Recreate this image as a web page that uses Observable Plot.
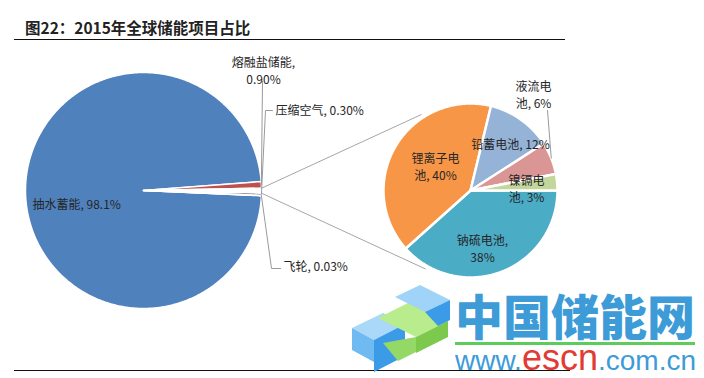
<!DOCTYPE html>
<html>
<head>
<meta charset="utf-8">
<script src="https://cdn.jsdelivr.net/npm/d3@7"></script>
<script src="https://cdn.jsdelivr.net/npm/@observablehq/plot@0.6"></script>
<style>
  html, body { margin: 0; padding: 0; background: #fff; }
  #wrap { position: relative; width: 704px; height: 378px; overflow: hidden; font-family: "Noto Sans CJK SC", sans-serif; }
  #title { position: absolute; left: 14px; top: 0; width: 551px; height: 22px; padding-top: 17px;
           border-bottom: 1.5px solid #111; font-weight: bold; font-size: 15.5px; line-height: 20px; color: #222; }
  #title span { margin-left: 11px; }
  #chart { position: absolute; left: 0; top: 41px; }
  #bottomline { position: absolute; left: 14px; top: 370px; width: 556px; border-top: 1.5px solid #111; }
  #logo { position: absolute; left: 340px; top: 280px; }
  #wmcn { position: absolute; left: 455px; top: 290px; font-size: 48px; line-height: 48px; font-weight: 900; color: #3d9bd8; white-space: nowrap; }
  #wmline { position: absolute; left: 455px; top: 342px; width: 240px; height: 2.5px; background: #5ccc5c; }
  #wmurl { position: absolute; left: 455px; top: 340px; font-family: "Liberation Sans", Arial, sans-serif; line-height: 36px; white-space: nowrap; }
  #wmurl .b { color: #3d9bd8; font-size: 28px; }
  #wmurl .r { color: #e23a34; font-size: 36px; }
</style>
</head>
<body>
<div id="wrap">
  <div id="title"><span>图22：2015年全球储能项目占比</span></div>
  <div id="chart"></div>
  <div id="bottomline"></div>
  <svg id="logo" width="120" height="98" viewBox="340 280 120 98">
    <polygon points="352,328 383,313 405,324 374,340" fill="#a9d8f8"/>
    <polygon points="352,328 374,340 374,362 352,350" fill="#6fbaf0"/>
    <polygon points="374,340 405,324 405,356 374,372" fill="#3c9be6"/>
    <polygon points="378,318 410,302 448,321 416,337" fill="#b9ec8c"/>
    <polygon points="383,343 416,337 416,352 398,361" fill="#94d866"/>
    <polygon points="416,337 448,321 448,337 416,353" fill="#7cc94e"/>
    <polygon points="395,297 420,285 450,300 425,312" fill="#9fd3f7"/>
    <polygon points="425,312 450,300 450,320 438,326" fill="#3c9be6"/>
  </svg>
  <div id="wmcn">中国储能网</div>
  <div id="wmline"></div>
  <div id="wmurl"><span class="b">www.</span><span class="r">escn</span><span class="b">.com.cn</span></div>
</div>
<script>
// ---------------- data ----------------
const mainNames  = ["抽水蓄能", "熔融盐储能", "电化学储能", "压缩空气", "飞轮"];
const mainValues = [98.1, 0.90, 0.67, 0.30, 0.03];
const mainPctText = ["98.1%", "0.90%", "", "0.30%", "0.03%"];

const subNames  = ["钠硫电池", "锂离子电池", "铅蓄电池", "液流电池", "镍镉电池"];
const subValues = [38, 40, 12, 6, 3];

// ---------------- styles ----------------
const mainColors = ["#4f81bd", "#c0504d", "#ffffff", "#363150", "#8064a2"];
const subColors  = ["#4bacc6", "#f79646", "#95b3d7", "#da9694", "#c3d69b"];

// ---------------- layout ----------------
const W = 704, H = 330, TOP = 41;
const K = 118;                      // px per unit (main pie radius)
const MCX = 143, MCY = 190;         // main pie centre (page px)
const ux = px => (px - MCX) / K;
const uy = py => (MCY - py) / K;
const deg = Math.PI / 180;
const mainC = {x: 0, y: 0}, mainR = 1;
const subC = {x: ux(470), y: uy(190)}, subR = 87 / K;

const mainArcs = d3.pie().sort(null).startAngle(92.5 * deg).endAngle(92.5 * deg + 2 * Math.PI)(mainValues);
const subArcs  = d3.pie().sort(null).startAngle(90 * deg).endAngle(90 * deg + 2 * Math.PI)(subValues);

function pt(c, r, a) { return {x: c.x + r * Math.sin(a), y: c.y + r * Math.cos(a)}; }
function poly(arc, c, r, name) {
  const out = [{name, ...c}];
  const n = Math.max(2, Math.ceil((arc.endAngle - arc.startAngle) / 0.01));
  for (let i = 0; i <= n; i++) out.push({name, ...pt(c, r, arc.startAngle + (arc.endAngle - arc.startAngle) * i / n)});
  out.push({name, ...c});
  return out;
}
const mid = a => (a.startAngle + a.endAngle) / 2;

const mainPts = mainArcs.flatMap((a, i) => poly(a, mainC, mainR, mainNames[i]));
const subPts  = subArcs.flatMap((a, i) => poly(a, subC, subR, subNames[i]));

// connector lines from "other" slice to secondary pie
const other = mainArcs[2];
const connectors = [
  {id: "top", ...pt(mainC, mainR, other.startAngle)}, {id: "top", ...pt(subC, subR * 1.04, 327 * deg)},
  {id: "bot", ...pt(mainC, mainR, other.endAngle)},   {id: "bot", ...pt(subC, subR * 1.04, 210 * deg)}
];

// label placement (px offsets from pie centre), anchor, line-break position
const off = (c, dx, dy) => ({x: c.x + dx / K, y: c.y - dy / K});
const mainLabelLayout = [
  {dx: -111, dy: 13, anchor: "start", br: 0},
  {dx: 120, dy: -120, anchor: "middle", br: 6},
  null,
  {dx: 132, dy: -81, anchor: "start", br: 0},
  {dx: 140, dy: 75, anchor: "start", br: 0}
];
const subLabelLayout = [
  {dx: 12, dy: 58, anchor: "middle", br: 5},
  {dx: -35, dy: -24, anchor: "middle", br: 4},
  {dx: 40, dy: -47, anchor: "middle", br: 0},
  {dx: 63, dy: -96, anchor: "middle", br: 3},
  {dx: 56, dy: -2, anchor: "middle", br: 3}
];
function wrapText(s, br) { return br ? s.slice(0, br) + "\n" + s.slice(br).trimStart() : s; }
const labels = [];
mainNames.forEach((n, i) => {
  const L = mainLabelLayout[i]; if (!L) return;
  labels.push({...off(mainC, L.dx, L.dy), anchor: L.anchor, text: wrapText(`${n}, ${mainPctText[i]}`, L.br)});
});
subNames.forEach((n, i) => {
  const L = subLabelLayout[i];
  labels.push({...off(subC, L.dx, L.dy), anchor: L.anchor, text: wrapText(`${n}, ${subValues[i]}%`, L.br)});
});

// leader lines
const leaders = [
  {id: 1, ...off(mainC, 119, -109)}, {id: 1, ...pt(mainC, mainR, mid(mainArcs[1]))},
  {id: 3, ...off(mainC, 129, -80)}, {id: 3, ...off(mainC, 122, -80)}, {id: 3, ...pt(mainC, mainR, mid(mainArcs[3]))},
  {id: 4, ...off(mainC, 137, 78)}, {id: 4, ...off(mainC, 128, 78)}, {id: 4, ...pt(mainC, mainR, mid(mainArcs[4]))},
  {id: 5, ...off(subC, 77, -80)}, {id: 5, ...pt(subC, subR, mid(subArcs[3]))}
];

const textOpts = {x: "x", y: "y", text: "text", lineAnchor: "middle", lineHeight: 1.4, fill: "#262626", fontSize: 12};
const chart = Plot.plot({
  width: W, height: H, margin: 0,
  x: {domain: [ux(0), ux(W)], range: [0, W], axis: null},
  y: {domain: [uy(TOP + H), uy(TOP)], range: [H, 0], axis: null},
  color: {domain: [...mainNames, ...subNames], range: [...mainColors, ...subColors]},
  style: {fontFamily: '"Noto Sans CJK SC", sans-serif', fontSize: "12px", background: "transparent", overflow: "visible"},
  marks: [
    Plot.line(mainPts, {x: "x", y: "y", z: "name", fill: "name", stroke: "#fff", strokeWidth: 1.5, strokeLinejoin: "round"}),
    Plot.line(subPts, {x: "x", y: "y", z: "name", fill: "name", stroke: "#fff", strokeWidth: 2.5, strokeLinejoin: "round"}),
    Plot.line(connectors, {x: "x", y: "y", z: "id", stroke: "#a6a6a6", strokeWidth: 1}),
    Plot.line(leaders, {x: "x", y: "y", z: "id", stroke: "#9a9a9a", strokeWidth: 1}),
    Plot.text(labels.filter(d => d.anchor === "start"), {...textOpts, textAnchor: "start"}),
    Plot.text(labels.filter(d => d.anchor === "middle"), {...textOpts, textAnchor: "middle"})
  ]
});
document.getElementById("chart").appendChild(chart);
</script>
</body>
</html>
